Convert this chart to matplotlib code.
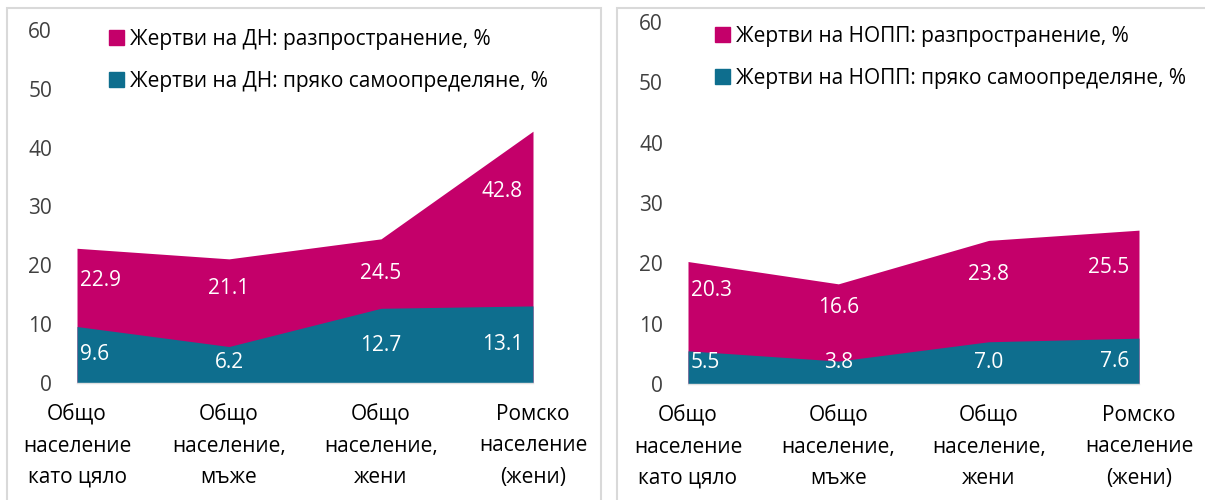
import matplotlib.pyplot as plt
from matplotlib.patches import Patch, Rectangle

plt.rcParams['font.family'] = ['Open Sans', 'DejaVu Sans']

categories = ['Общо\nнаселение\nкато цяло', 'Общо\nнаселение,\nмъже',
              'Общо\nнаселение,\nжени', 'Ромско\nнаселение\n(жени)']
dn_prevalence = [22.9, 21.1, 24.5, 42.8]
dn_self = [9.6, 6.2, 12.7, 13.1]
nopp_prevalence = [20.3, 16.6, 23.8, 25.5]
nopp_self = [5.5, 3.8, 7.0, 7.6]
yticks = [0, 10, 20, 30, 40, 50, 60]

pink = '#c4006a'
teal = '#0e6e8e'
fs = 15

fig = plt.figure(figsize=(12.05, 5.0), dpi=100)

# panel frames
fig.patches.append(Rectangle((7 / 1205, -0.05), 594 / 1205, 1.034, transform=fig.transFigure,
                             fill=False, ec='#d9d9d9', lw=1.5))
fig.patches.append(Rectangle((617 / 1205, -0.05), 600 / 1205, 1.034, transform=fig.transFigure,
                             fill=False, ec='#d9d9d9', lw=1.5))


def panel(rect, prev, self_, name, leg_anchor):
    ax = fig.add_axes(rect)
    x = list(range(len(categories)))
    ax.fill_between(x, 0, prev, color=pink, lw=0)
    ax.fill_between(x, 0, self_, color=teal, lw=0)
    ax.set_xlim(0, len(x) - 1)
    ax.set_ylim(0, 60)
    ax.set_yticks(yticks)
    ax.set_yticklabels([str(t) for t in yticks], fontsize=fs, color='#404040')
    ax.set_xticks(x)
    ax.set_xticklabels(categories, fontsize=fs, linespacing=1.65)
    ax.tick_params(axis='y', length=0, pad=18)
    ax.tick_params(axis='x', length=0, pad=15)
    for s in ['top', 'right', 'left']:
        ax.spines[s].set_visible(False)
    ax.spines['bottom'].set_color('#e0e0e0')
    ax.spines['bottom'].set_linewidth(1)

    for i in x:
        if i == 0:
            ha, dx = 'left', 3
        elif i == len(x) - 1:
            ha, dx = 'right', -10
        else:
            ha, dx = 'center', 0
        ax.annotate(f'{prev[i]:.1f}', (i, prev[i] * 0.76), xytext=(dx, 0), textcoords='offset pixels',
                    ha=ha, va='center', color='white', fontsize=fs)
        ax.annotate(f'{self_[i]:.1f}', (i, max(self_[i] * 0.5, 3.5)), xytext=(dx, 0),
                    textcoords='offset pixels', ha=ha, va='center', color='white', fontsize=fs)

    handles = [Patch(color=pink), Patch(color=teal)]
    labels = [f'Жертви на {name}: разпространение, %', f'Жертви на {name}: пряко самоопределяне, %']
    fig.legend(handles, labels, loc='upper left', bbox_to_anchor=leg_anchor, frameon=False,
               fontsize=fs, handlelength=0.7, handleheight=0.7, handletextpad=0.3,
               labelspacing=1.0, borderpad=0, borderaxespad=0)
    return ax


panel([77 / 1205, 117 / 500, 456 / 1205, 353 / 500], dn_prevalence, dn_self, 'ДН', (109 / 1205, 1 - 29 / 500))
panel([688 / 1205, 116 / 500, 451 / 1205, 362 / 500], nopp_prevalence, nopp_self, 'НОПП', (715 / 1205, 1 - 26 / 500))

fig.savefig('out.png', dpi=100)
